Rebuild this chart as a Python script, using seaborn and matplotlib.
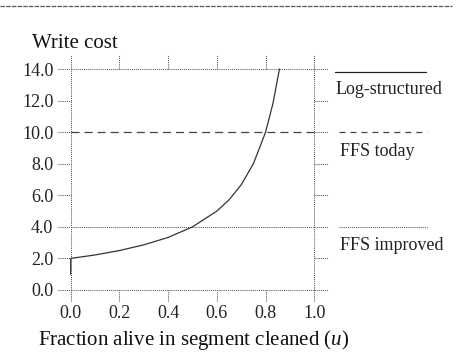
import matplotlib
matplotlib.use("Agg")
import matplotlib.pyplot as plt
import matplotlib.transforms as mtransforms
import seaborn as sns
import pandas as pd

# ---- data ----
u_values = [0.0, 0.0, 0.1, 0.2, 0.3, 0.4, 0.5, 0.6, 0.65, 0.7, 0.75, 0.8, 0.83, 0.857]
log_cost = [1.0, 2.0, 2.22, 2.5, 2.86, 3.33, 4.0, 5.0, 5.71, 6.67, 8.0, 10.0, 11.8, 14.0]
ffs_today = 10.0
ffs_improved = 4.0
y_ticks = [0.0, 2.0, 4.0, 6.0, 8.0, 10.0, 12.0, 14.0]
x_ticks = [0.0, 0.2, 0.4, 0.6, 0.8, 1.0]
legend_labels = ["Log-structured", "FFS today", "FFS improved"]

sns.set_theme(style="white")
plt.rcParams["font.family"] = ["Liberation Serif", "DejaVu Serif"]
plt.rcParams["mathtext.fontset"] = "custom"
plt.rcParams["mathtext.it"] = "Liberation Serif:italic"
plt.rcParams["mathtext.rm"] = "Liberation Serif"
plt.rcParams["lines.scale_dashes"] = False

W, H = 475, 361
fig = plt.figure(figsize=(W / 100, H / 100), dpi=100)
x0, x1 = 70.7, 314.3
y0, y1 = 290.0, 69.0
ax = fig.add_axes([x0 / W, 1 - y0 / H, (x1 - x0) / W, (y0 - y1) / H])
ax.set_xlim(0, 1)
ax.set_ylim(0, 14)
for s in ax.spines.values():
    s.set_visible(False)

def fx(px):
    return (px - x0) / (x1 - x0)

def fy(py):
    return (y0 - py) / (y0 - y1)

DOT = (0, (0.75, 0.75))
DASH = (0, (5.8, 3.6))
grey = "#555555"
lw = 0.75

bx = mtransforms.blended_transform_factory(ax.transAxes, ax.transData)
by = mtransforms.blended_transform_factory(ax.transData, ax.transAxes)

# ticks (dotted, outside)
for yt in y_ticks:
    ax.plot([fx(58), 0], [yt, yt], transform=bx, ls=DOT, color=grey, lw=lw, clip_on=False)
    ax.plot([1, fx(328)], [yt, yt], transform=bx, ls=DOT, color=grey, lw=lw, clip_on=False)
for xt in x_ticks:
    ax.plot([xt, xt], [1, fy(55)], transform=by, ls=DOT, color=grey, lw=lw, clip_on=False)
    ax.plot([xt, xt], [fy(301), 0], transform=by, ls=DOT, color=grey, lw=lw, clip_on=False)

# frame / reference lines
for xv in [0.0, 1.0]:
    ax.plot([xv, xv], [0, 1], transform=by, ls=DOT, color=grey, lw=lw, clip_on=False)
for yv in [0.0, ffs_improved, 14.0]:
    ax.plot([0, 1], [yv, yv], transform=bx, ls=DOT, color=grey, lw=lw, clip_on=False)
ax.plot([0, 1], [ffs_today, ffs_today], transform=bx, ls=DASH, color="#444444", lw=0.9, clip_on=False)

# curve
df = pd.DataFrame({"u": u_values, "cost": log_cost})
sns.lineplot(data=df, x="u", y="cost", sort=False, estimator=None, color="#333333",
             lw=0.9, ax=ax, clip_on=False)

# tick labels
ax.set_xticks(x_ticks)
ax.set_yticks(y_ticks)
ax.set_xticklabels([f"{v:.1f}" for v in x_ticks], fontsize=13, color="#222222")
ax.set_yticklabels([f"{v:.1f}" for v in y_ticks], fontsize=13, color="#222222")
ax.tick_params(axis="both", length=0)
ax.tick_params(axis="y", pad=12.5)
ax.tick_params(axis="x", pad=11)
ax.set_xlabel("")
ax.set_ylabel("")

# axis titles
fig.text(32 / W, 1 - 43 / H, "Write cost", fontsize=15, color="#111111", ha="left", va="center")
fig.text(194 / W, 1 - 340 / H, "Fraction alive in segment cleaned ($\\mathit{u}$)", fontsize=15,
         color="#111111", ha="center", va="center")

# legend (manual)
ax.plot([fx(335), fx(426)], [fy(72.3), fy(72.3)], transform=ax.transAxes, color="#222222", lw=0.9, clip_on=False)
ax.text(fx(336), fy(90), legend_labels[0], transform=ax.transAxes, fontsize=13, va="center", color="#222222")
ax.plot([fx(339), fx(427)], [fy(131.7), fy(131.7)], transform=ax.transAxes, ls=(0, (4.3, 3.6)), color="#444444", lw=0.9, clip_on=False)
ax.text(fx(340), fy(151.7), legend_labels[1], transform=ax.transAxes, fontsize=13, va="center", color="#222222")
ax.plot([fx(339), fx(427)], [fy(226.7), fy(226.7)], transform=ax.transAxes, ls=DOT, color=grey, lw=lw, clip_on=False)
ax.text(fx(340), fy(245), legend_labels[2], transform=ax.transAxes, fontsize=13, va="center", color="#222222")

# top rule
fig.add_artist(plt.Line2D([0, 452 / W], [1 - 5.5 / H, 1 - 5.5 / H], transform=fig.transFigure,
                          ls=(0, (3.2, 0.9)), color="#555555", lw=0.9))

fig.savefig("out.png", dpi=100)
